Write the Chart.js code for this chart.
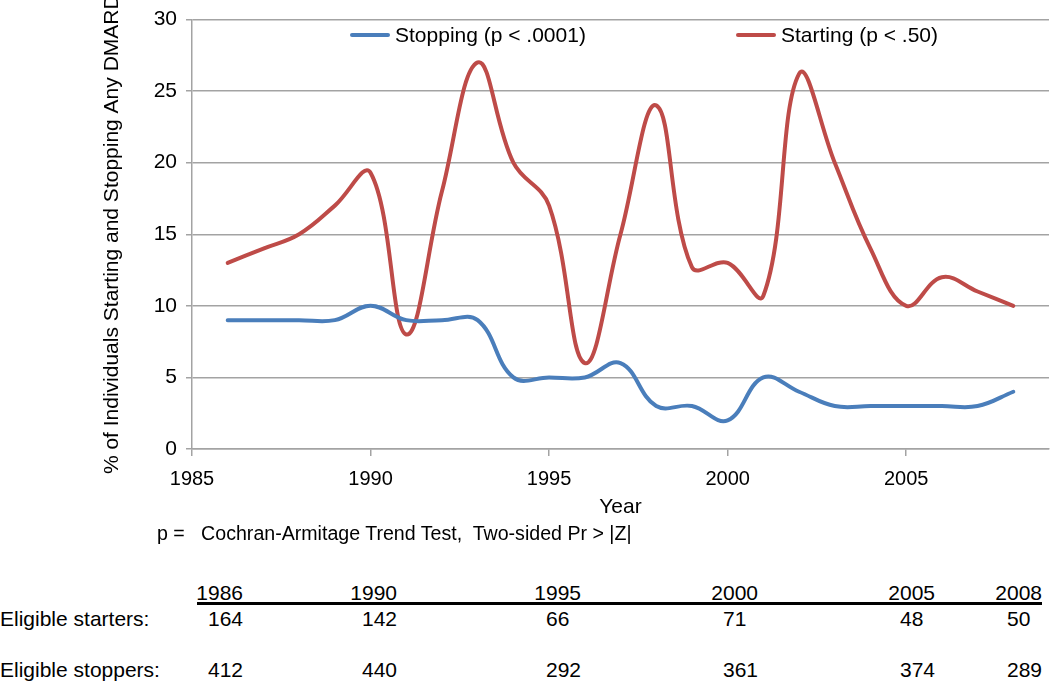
<!DOCTYPE html>
<html>
<head>
<meta charset="utf-8">
<script src="https://cdn.jsdelivr.net/npm/chart.js@4.4.1/dist/chart.umd.min.js"></script>
<style>
  html, body { margin: 0; padding: 0; background: #fff; overflow: hidden; }
  body { width: 1050px; height: 681px; position: relative; font-family: "Liberation Sans", Arial, sans-serif; color: #000; }
  #chartBox { position: absolute; left: 0; top: 0; width: 1050px; height: 530px; }
  .txt { position: absolute; font-size: 21px; line-height: 24px; white-space: pre; }
  .num { position: absolute; font-size: 21px; line-height: 24px; width: 36px; text-align: left; }
  .yr { position: absolute; font-size: 21px; line-height: 24px; text-align: right; width: 60px; }
  #rule { position: absolute; left: 197px; width: 845px; top: 602px; height: 3px; background: #000; }
</style>
</head>
<body>
<div id="chartBox"><canvas id="chart" width="1050" height="530"></canvas></div>
<div class="txt" style="left:157px; top:521px; font-size:19.6px;">p =   Cochran-Armitage Trend Test,  Two-sided Pr &gt; |Z|</div>
<div id="rule"></div>
<div id="table"></div>
<script>
  // Series (percent per year)
  const years = [1986, 1987, 1988, 1989, 1990, 1991, 1992, 1993, 1994, 1995, 1996, 1997,
                 1998, 1999, 2000, 2001, 2002, 2003, 2004, 2005, 2006, 2007, 2008];
  const stopping = [9, 9, 9, 9, 10, 9, 9, 9, 5, 5, 5, 6,
                    3, 3, 2, 5, 4, 3, 3, 3, 3, 3, 4];
  const starting = [13, 14, 15, 17, 19.3, 8, 18, 27, 20, 17, 6, 15,
                    24, 12.7, 13, 10.7, 26.2, 20, 14, 10, 12, 11, 10];
  const seriesLabels = ['Stopping (p < .0001)', 'Starting (p < .50)'];
  const seriesColors = ['#4A7EBB', '#BE4B48'];

  const xTickYears = [1985, 1990, 1995, 2000, 2005];

  // Table under the chart
  const tableYears = [1986, 1990, 1995, 2000, 2005, 2008];
  const eligibleStarters = [164, 142, 66, 71, 48, 50];
  const eligibleStoppers = [412, 440, 292, 361, 374, 289];
  const rowLabels = ['Eligible starters:', 'Eligible stoppers:'];

  // layout of the table (right edge of each column, row text tops)
  const colRight = [243, 397, 581, 758, 935, 1042];
  const rowTop = { years: 581, starters: 607, stoppers: 658 };

  const table = document.getElementById('table');
  function addDiv(cls, text, left, top) {
    const d = document.createElement('div');
    d.className = cls;
    d.textContent = text;
    d.style.left = left + 'px';
    d.style.top = top + 'px';
    table.appendChild(d);
  }
  addDiv('txt', rowLabels[0], 0, rowTop.starters);
  addDiv('txt', rowLabels[1], 0, rowTop.stoppers);
  tableYears.forEach((y, i) => {
    addDiv('yr', String(y), colRight[i] - 60, rowTop.years);
    addDiv('num', String(eligibleStarters[i]), colRight[i] - 35, rowTop.starters);
    addDiv('num', String(eligibleStoppers[i]), colRight[i] - 35, rowTop.stoppers);
  });

  // legend drawn inside the plot area
  const legendSpots = [{ x: 350, y: 35 }, { x: 736, y: 35 }];
  const insideLegend = {
    id: 'insideLegend',
    afterDraw(chart) {
      const ctx = chart.ctx;
      ctx.save();
      chart.data.datasets.forEach((ds, i) => {
        const p = legendSpots[i];
        ctx.strokeStyle = ds.borderColor;
        ctx.lineWidth = 4;
        ctx.lineCap = 'round';
        ctx.beginPath();
        ctx.moveTo(p.x + 2, p.y);
        ctx.lineTo(p.x + 38, p.y);
        ctx.stroke();
        ctx.fillStyle = '#000';
        ctx.font = '21px "Liberation Sans", Arial, sans-serif';
        ctx.textBaseline = 'middle';
        ctx.textAlign = 'left';
        ctx.fillText(ds.label, p.x + 45, p.y + 1);
      });
      ctx.restore();
    }
  };

  const gridGray = '#a3a3a3';
  const font = '"Liberation Sans", Arial, sans-serif';

  new Chart(document.getElementById('chart'), {
    type: 'line',
    data: {
      datasets: [
        {
          label: seriesLabels[0],
          data: years.map((y, i) => ({ x: y, y: stopping[i] })),
          borderColor: seriesColors[0],
          borderWidth: 4,
          pointRadius: 0,
          tension: 0.4,
          borderCapStyle: 'round',
          borderJoinStyle: 'round',
          fill: false
        },
        {
          label: seriesLabels[1],
          data: years.map((y, i) => ({ x: y, y: starting[i] })),
          borderColor: seriesColors[1],
          borderWidth: 4,
          pointRadius: 0,
          tension: 0.4,
          borderCapStyle: 'round',
          borderJoinStyle: 'round',
          fill: false
        }
      ]
    },
    options: {
      responsive: false,
      animation: false,
      layout: { padding: { top: 11, right: 1, left: 0, bottom: 0 } },
      plugins: {
        legend: { display: false },
        tooltip: { enabled: false }
      },
      scales: {
        x: {
          type: 'linear',
          min: 1985,
          max: 2009,
          afterBuildTicks: s => { s.ticks = xTickYears.map(v => ({ value: v })); },
          afterFit: s => { s.height = 81; },
          grid: { drawOnChartArea: false, drawTicks: true, tickLength: 7, color: gridGray, lineWidth: 1.5 },
          border: { display: true, color: gridGray, width: 1.5 },
          ticks: { color: '#000', padding: 11, font: { family: font, size: 20 }, maxRotation: 0,
                   callback: v => String(v) },
          title: { display: true, text: 'Year', color: '#000', font: { family: font, size: 21 },
                   padding: { top: 0, bottom: 10 } }
        },
        y: {
          min: 0,
          max: 30,
          afterFit: s => { s.width = 192; },
          ticks: { stepSize: 5, color: '#000', padding: 9, font: { family: font, size: 21, lineHeight: 1 } },
          grid: { color: gridGray, lineWidth: 1.5, tickLength: 6 },
          border: { display: true, color: gridGray, width: 1.5 },
          title: { display: true, text: '% of Individuals Starting and Stopping Any DMARD', color: '#000',
                   font: { family: font, size: 21 }, padding: { top: 100, bottom: 0 } }
        }
      }
    },
    plugins: [insideLegend]
  });
</script>
</body>
</html>
